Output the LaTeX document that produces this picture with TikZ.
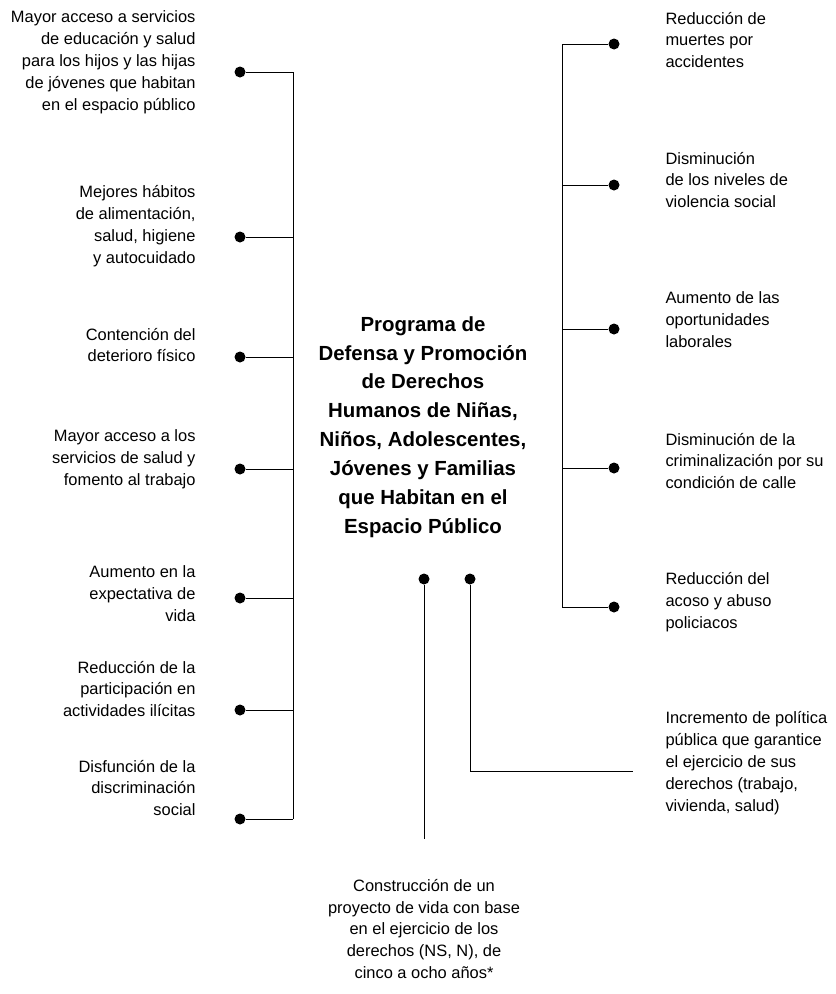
\documentclass[tikz,border=0pt]{standalone}
\usepackage{fontspec}
\setmainfont{Liberation Sans}
\usetikzlibrary{positioning}

\begin{document}
\begin{tikzpicture} [%
    x = 1bp, y = -1bp,
    line width = 1bp,
    dot/.style = {%
      circle, fill, draw = none,
      inner sep = 0pt, minimum size = 11bp },
    lefttext/.style = {%
      anchor = east, align = right, inner sep = 0pt,
      font = \fontsize{16.5}{22}\selectfont },
    righttext/.style = {%
      anchor = west, align = left, inner sep = 0pt,
      font = \fontsize{16.5}{22}\selectfont },
    bottomtext/.style = {%
      anchor = center, align = center, inner sep = 0pt,
      font = \fontsize{16.5}{22}\selectfont },
    program/.style = {%
      align = center, inner sep = 0pt,
      font = \fontsize{20.5}{29}\selectfont\bfseries }
  ]

\useasboundingbox (0,0) rectangle (836,994);

% center
\node[program] (prog) at (423,427) {Programa de\\Defensa y Promoción\\de Derechos\\Humanos de Niñas,\\Niños, Adolescentes,\\Jóvenes y Familias\\que Habitan en el\\Espacio Público};

% left side
\node[lefttext] (l1) at (196,62) {Mayor acceso a servicios\\de educación y salud\\para los hijos y las hijas\\de jóvenes que habitan\\en el espacio público};
\node[lefttext] (l2) at (196,226) {Mejores hábitos\\de alimentación,\\salud, higiene\\y autocuidado};
\node[lefttext] (l3) at (196,345) {Contención del\\deterioro físico};
\node[lefttext] (l4) at (196,459) {Mayor acceso a los\\servicios de salud y\\fomento al trabajo};
\node[lefttext] (l5) at (196,594) {Aumento en la\\expectativa de\\vida};
\node[lefttext] (l6) at (196,689) {Reducción de la\\participación en\\actividades ilícitas};
\node[lefttext] (l7) at (196,788) {Disfunción de la\\discriminación\\social};

\node[dot] (ld1) at (240,72) {};
\node[dot] (ld2) at (240,237) {};
\node[dot] (ld3) at (240,357) {};
\node[dot] (ld4) at (240,469) {};
\node[dot] (ld5) at (240,598) {};
\node[dot] (ld6) at (240,710) {};
\node[dot] (ld7) at (240,819) {};
\coordinate (lt) at (293,0);

% right side
\node[righttext] (r1) at (665,40) {Reducción de\\muertes por\\accidentes};
\node[righttext] (r2) at (665,180) {Disminución\\de los niveles de\\violencia social};
\node[righttext] (r3) at (665,320) {Aumento de las\\oportunidades\\laborales};
\node[righttext] (r4) at (665,461) {Disminución de la\\criminalización por su\\condición de calle};
\node[righttext] (r5) at (665,602) {Reducción del\\acoso y abuso\\policiacos};
\node[righttext] (r6) at (665,763) {Incremento de política\\pública que garantice\\el ejercicio de sus\\derechos (trabajo,\\vivienda, salud)};

\node[dot] (rd1) at (614,44) {};
\node[dot] (rd2) at (614,185) {};
\node[dot] (rd3) at (614,329) {};
\node[dot] (rd4) at (614,468) {};
\node[dot] (rd5) at (614,607) {};
\coordinate (rt) at (562,0);

% bottom
\node[bottomtext] (b1) at (424,929) {Construcción de un\\proyecto de vida con base\\en el ejercicio de los\\derechos (NS, N), de\\cinco a ocho años*};
\node[dot] (bd1) at (424,579) {};
\node[dot] (bd2) at (470,579) {};
\coordinate (be1) at (424,839);
\coordinate (be2) at (470,771);
\coordinate (be3) at (633,771);

% connectors
\foreach \i in {1,...,7}
  \draw (ld\i) -- (ld\i -| lt);
\draw (ld1 -| lt) -- (ld7 -| lt);

\foreach \i in {1,...,5}
  \draw (rd\i) -- (rd\i -| rt);
\draw (rd1 -| rt) -- (rd5 -| rt);

\draw (bd1) -- (be1);
\draw (bd2) -- (be2) -- (be3);

\end{tikzpicture}
\end{document}
